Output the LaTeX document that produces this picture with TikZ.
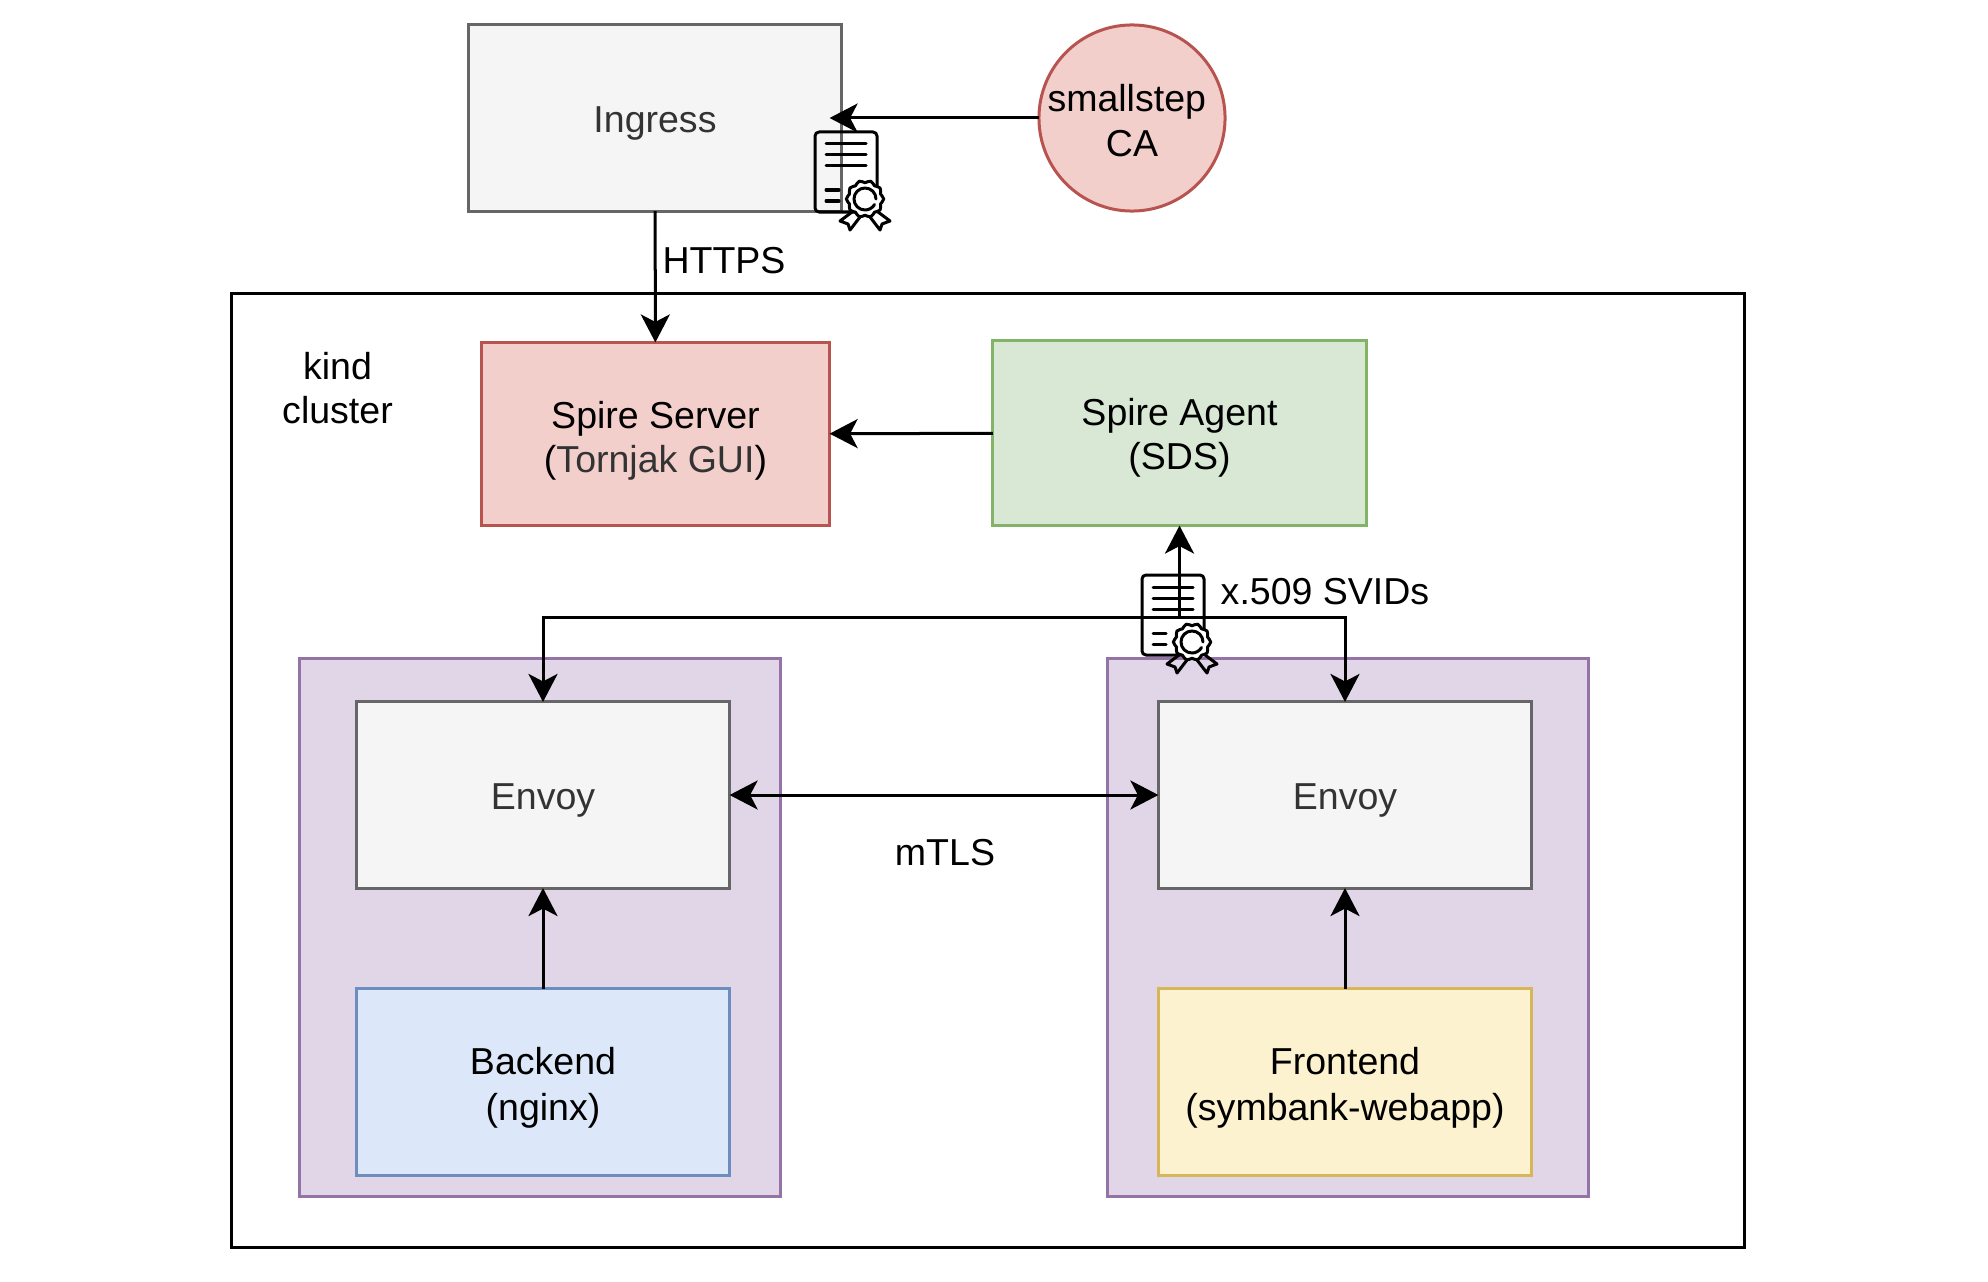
\documentclass[tikz,border=0pt]{standalone}
\usepackage{fontspec}
\setmainfont{Liberation Sans}
\usepackage{xcolor}
\usetikzlibrary{arrows.meta}
\definecolor{greyfill}{HTML}{F5F5F5}
\definecolor{greyline}{HTML}{666666}
\definecolor{redfill}{HTML}{F3CFCC}
\definecolor{redline}{HTML}{B85450}
\definecolor{greenfill}{HTML}{D9E8D5}
\definecolor{greenline}{HTML}{82B366}
\definecolor{purplefill}{HTML}{E0D6E7}
\definecolor{purpleline}{HTML}{9673A6}
\definecolor{bluefill}{HTML}{DCE8FA}
\definecolor{blueline}{HTML}{6C8EBF}
\definecolor{yellowfill}{HTML}{FDF2CF}
\definecolor{yellowline}{HTML}{D6B656}
\definecolor{darktext}{HTML}{333333}
\newcommand{\toppad}[1]{\rule{0pt}{#1}}
\tikzset{
  >={Stealth[length=0.28cm, width=0.29cm, inset=0.075cm]},
  every node/.style={font=\fontsize{10.67}{12.66}\selectfont, align=center, inner sep=0pt},
  box/.style={draw, rectangle, outer sep=0pt, line width=0.03cm, minimum width=3.73cm, minimum height=1.86cm},
  greybox/.style={box, draw=greyline, fill=greyfill, text=darktext},
  redbox/.style={box, draw=redline, fill=redfill, minimum width=3.48cm, minimum height=1.83cm},
  greenbox/.style={box, draw=greenline, fill=greenfill, minimum height=1.85cm},
  bluebox/.style={box, draw=blueline, fill=bluefill},
  yellowbox/.style={box, draw=yellowline, fill=yellowfill},
  podbox/.style={box, draw=purpleline, fill=purplefill, minimum width=4.8cm, minimum height=5.38cm},
  clusterbox/.style={box, draw=black, minimum width=15.13cm, minimum height=9.54cm},
  cacircle/.style={draw=redline, fill=redfill, circle, outer sep=0pt, line width=0.03cm, minimum size=1.86cm},
  conn/.style={draw=black, line width=0.03cm, ->},
  certificate/.pic={
    \begin{scope}[line width=0.03cm, line join=round, line cap=round]
    \draw[rounded corners=0.04cm] (0,0) rectangle (62,80);
    \foreach \ypos in {12,23,34} \draw (11,\ypos) -- (51,\ypos);
    \foreach \ypos in {58,69} \draw (11,\ypos) -- (24,\ypos);
    \draw (37,80) -- (25,89) -- (33,92) -- (35,98) -- (45,85);
    \draw (63,80) -- (75,89) -- (67,92) -- (65,98) -- (55,85);
    \draw[fill=white] plot[smooth cycle, samples=40, domain=0:351, variable=\t]
      ({50+(17.5+1.2*cos(10*\t))*cos(\t)},{67+(17.5+1.2*cos(10*\t))*sin(\t)});
    \draw (61,67) arc[start angle=0, end angle=330, radius=0.11cm];
    \end{scope}
  }
}

\begin{document}
\begin{tikzpicture}[x=0.01cm,y=-0.01cm]
\useasboundingbox (0,0) rectangle (1988,1282);
\node[clusterbox] (cluster) at (988,770.5) {};
\node[podbox] (podleft) at (540,927.5) {};
\node[podbox] (podright) at (1348,927.5) {};
\node[greybox] (ingress) at (655,118) {\toppad{0.37cm}Ingress};
\node[cacircle] (smallstep) at (1132,118) {\toppad{0.32cm}smallstep\hspace*{0.28em}\\CA};
\node[redbox] (spireserver) at (655.5,434) {\toppad{0.41cm}Spire Server\\(\textcolor{darktext}{Tornjak GUI})};
\node[greenbox] (spireagent) at (1179.5,433) {\toppad{0.37cm}Spire Agent\\(SDS)};
\node[greybox] (envoyleft) at (543,795) {\toppad{0.37cm}Envoy};
\node[greybox] (envoyright) at (1345,795) {\toppad{0.37cm}Envoy};
\node[bluebox] (backend) at (543,1082) {\toppad{0.385cm}Backend\\[0.02cm](nginx)};
\node[yellowbox] (frontend) at (1345,1082) {\toppad{0.385cm}Frontend\\[0.02cm](symbank-webapp)};
\node (clusterlabel) at (337.5,388) {kind\\cluster};
\node (httpslabel) at (724,261) {HTTPS};
\node (svidlabel) at (1325,592) {x.509 SVIDs};
\node (mtlslabel) at (945,853) {mTLS};
\coordinate (svidfork) at (1179.5,617.5);
\draw[conn] (ingress) -- (spireserver);
\draw[conn, shorten >=-0.12cm] (smallstep) -- (ingress);
\draw[conn] (spireagent) -- (spireserver);
\draw[conn] (svidfork) -- (spireagent);
\draw[conn] (svidfork) -| (envoyleft.north);
\draw[conn] (svidfork) -| (envoyright.north);
\draw[conn, <->] (envoyleft) -- (envoyright);
\draw[conn] (backend) -- (envoyleft);
\draw[conn] (frontend) -- (envoyright);
\pic (certingress) at (815,132) {certificate};
\pic (certsvid) at (1142,575) {certificate};
\end{tikzpicture}
\end{document}
